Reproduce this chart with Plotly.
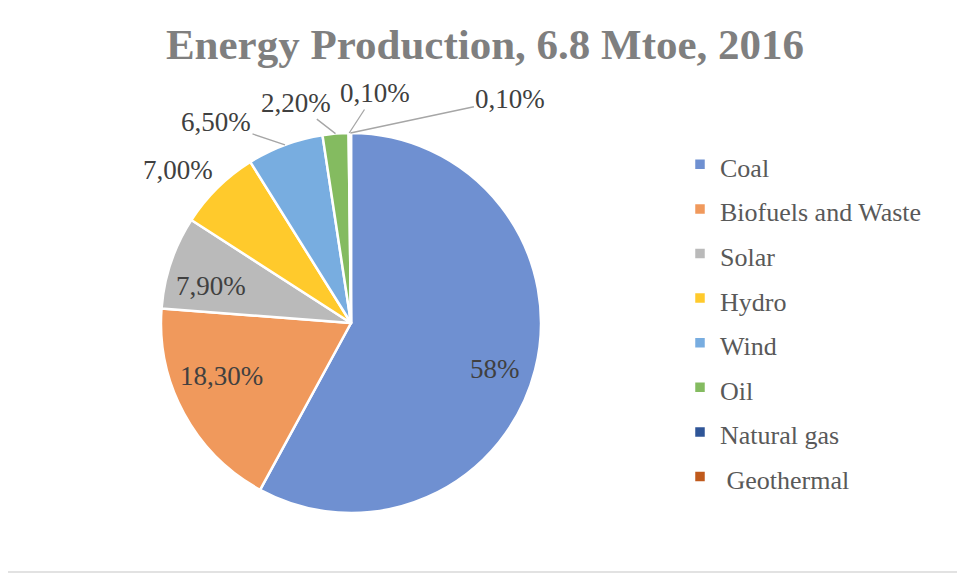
import math
import plotly.graph_objects as go

# ---- data ----
categories = ["Coal", "Biofuels and Waste", "Solar", "Hydro", "Wind", "Oil", "Natural gas", " Geothermal"]
values = [58.0, 18.3, 7.9, 7.0, 6.5, 2.2, 0.1, 0.1]
value_labels = ["58%", "18,30%", "7,90%", "7,00%", "6,50%", "2,20%", "0,10%", "0,10%"]

# ---- styles ----
colors = ["#6f90d1", "#f0995c", "#bababa", "#ffca2c", "#78ade0", "#84bb60", "#2f5597", "#c05a1c"]
# label offsets (px) from each slice's outer mid-point, and whether a leader line is drawn
label_dx = [-40, 37, 40, -40, -69, -40, 26, 160]
label_dy = [-1, -38, 24, -18, -23, -31, -40, -34]
leader = [False, False, False, False, True, True, True, True]

W, H = 965, 574
OFF = 8                        # page body margin
cx, cy, r = 351 - OFF, 323 - OFF, 190   # pie centre / radius in figure pixels

fig = go.Figure(go.Pie(
    labels=[f'<span style="font-size:26px">{c}</span>' for c in categories],
    values=values,
    textinfo="none",
    sort=False,
    direction="clockwise",
    rotation=0,
    marker=dict(colors=colors, line=dict(color="white", width=2.5)),
    domain=dict(x=[(cx - r) / W, (cx + r) / W], y=[1 - (cy + r) / H, 1 - (cy - r) / H]),
    hovertext=categories,
    hoverinfo="text+percent",
))

# data labels placed from each slice's mid angle
total = sum(values)
annotations = []
cum = 0.0
for v, lab, dx, dy, ld in zip(values, value_labels, label_dx, label_dy, leader):
    theta = 2 * math.pi * (cum + v / 2) / total
    cum += v
    tx = cx + r * math.sin(theta)
    ty = cy - r * math.cos(theta)
    annotations.append(dict(
        x=tx / W, y=1 - ty / H, xref="paper", yref="paper",
        text=lab, showarrow=True, ax=dx, ay=dy, arrowhead=0, standoff=0,
        arrowwidth=1.3, arrowcolor="#a6a6a6" if ld else "rgba(0,0,0,0)",
        font=dict(family="Liberation Serif", size=27, color="#404040"),
    ))

fig.update_layout(
    width=W, height=H,
    margin=dict(l=0, r=0, t=0, b=0),
    paper_bgcolor="white",
    font=dict(family="Liberation Serif", color="#595959"),
    title=dict(text="<b>Energy Production, 6.8 Mtoe, 2016</b>", x=(485 - OFF) / W, xanchor="center",
               y=1 - (44 - OFF) / H, yanchor="middle",
               font=dict(family="Liberation Serif", size=43, color="#7f7f7f")),
    legend=dict(x=(680 - OFF) / W, y=1 - (137 - OFF) / H, xanchor="left", yanchor="top",
                font=dict(family="Liberation Serif", size=32, color="#595959"),
                itemwidth=30),
    annotations=annotations,
    shapes=[dict(type="rect", xref="paper", yref="paper",
                 x0=-0.02, x1=(962 - OFF) / W, y0=1 - (572 - OFF) / H, y1=1.05,
                 line=dict(color="#d9d9d9", width=1.5), fillcolor="rgba(0,0,0,0)")],
)

fig.write_html("out.html")
